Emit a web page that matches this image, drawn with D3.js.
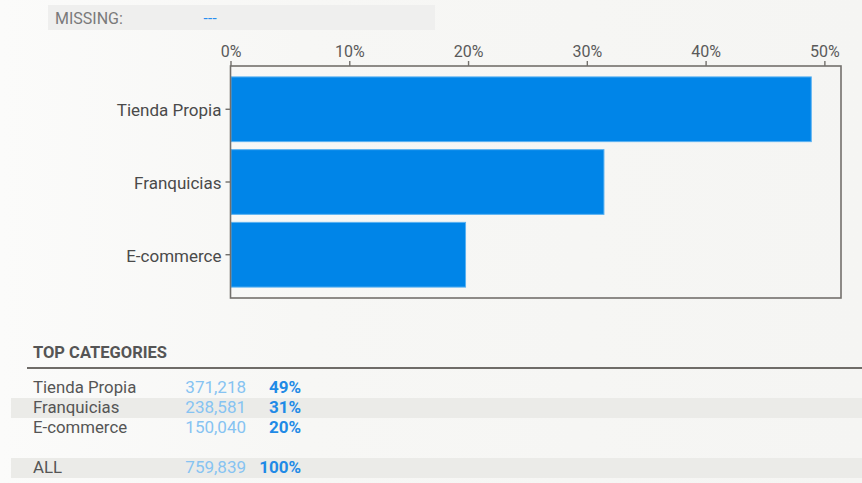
<!DOCTYPE html>
<html>
<head>
<meta charset="utf-8">
<script src="https://cdn.jsdelivr.net/npm/d3@7"></script>
<style>
  html, body { margin: 0; padding: 0; background: #f6f6f4; }
  svg { display: block; }
</style>
</head>
<body>
<svg id="chart" width="862" height="483"></svg>
<script>
// Channel breakdown
const categories = ["Tienda Propia", "Franquicias", "E-commerce"];
const counts = [371218, 238581, 150040];
const total = 759839;
const xTicks = [0, 0.1, 0.2, 0.3, 0.4, 0.5];
const missingLabel = "MISSING:";
const missingValue = "---";
const tableTitle = "TOP CATEGORIES";
const allLabel = "ALL";

const shares = counts.map(c => c / total);

const svg = d3.select("#chart");
const W = 862, H = 483;

// background with a soft left-to-right tint
const defs = svg.append("defs");
const grad = defs.append("linearGradient").attr("id", "bg").attr("x1", 0).attr("x2", 1).attr("y1", 0).attr("y2", 0);
grad.append("stop").attr("offset", 0).attr("stop-color", "#fbfbfa");
grad.append("stop").attr("offset", 0.35).attr("stop-color", "#f7f7f5");
grad.append("stop").attr("offset", 1).attr("stop-color", "#f5f5f3");
svg.append("rect").attr("width", W).attr("height", H).attr("fill", "url(#bg)");

// missing-values strip
svg.append("rect").attr("x", 48).attr("y", 5).attr("width", 387).attr("height", 25).attr("fill", "#efefee");
svg.append("text").attr("x", 55).attr("y", 24).text(missingLabel)
  .attr("font-family", "Roboto, sans-serif").attr("font-size", 16).attr("fill", "#7a7a7a");
svg.append("text").attr("x", 203).attr("y", 23).text(missingValue)
  .attr("font-family", "'DejaVu Sans', sans-serif").attr("font-size", 14).attr("letter-spacing", -0.6)
  .attr("fill", "#2a8ef0");

// bar chart
const plot = { left: 230.5, right: 841, top: 66, bottom: 298 };
const x = d3.scaleLinear().domain([0, 0.514]).range([plot.left, plot.right]);
const y = d3.scaleBand().domain(categories).range([plot.top, plot.bottom])
  .paddingInner(0.11).paddingOuter(0.15);

const g = svg.append("g");

g.selectAll("rect.bar").data(categories).join("rect")
  .attr("class", "bar")
  .attr("x", x(0) + 0.5)
  .attr("y", d => y(d))
  .attr("width", (d, i) => x(shares[i]) - x(0))
  .attr("height", y.bandwidth())
  .attr("fill", "#0085e8")
  .attr("stroke", "#5ab2f2")
  .attr("stroke-width", 1);

// frame
g.append("rect")
  .attr("x", plot.left).attr("y", plot.top)
  .attr("width", plot.right - plot.left).attr("height", plot.bottom - plot.top)
  .attr("fill", "none").attr("stroke", "#73706c").attr("stroke-width", 1.6);

// top axis
const xAxis = d3.axisTop(x).tickValues(xTicks).tickFormat(d3.format(".0%")).tickSize(5).tickSizeOuter(0);
const ax = g.append("g").attr("transform", `translate(0,${plot.top})`).call(xAxis);
ax.select(".domain").remove();
ax.selectAll(".tick line").attr("stroke", "#73706c").attr("stroke-width", 1.4);
ax.selectAll(".tick text").attr("font-family", "Roboto, sans-serif").attr("font-size", 16)
  .attr("fill", "#5a5a5a").attr("dy", "-0.05em");

// left axis
const yAxis = d3.axisLeft(y).tickSize(5).tickSizeOuter(0);
const ay = g.append("g").attr("transform", `translate(${plot.left},0)`).call(yAxis);
ay.select(".domain").remove();
ay.selectAll(".tick line").attr("stroke", "#73706c").attr("stroke-width", 1.4);
ay.selectAll(".tick text").attr("font-family", "Roboto, sans-serif").attr("font-size", 17)
  .attr("fill", "#4a4a4a").attr("x", -9).attr("dy", "0.42em");

// top categories table
svg.append("text").attr("x", 33).attr("y", 358).text(tableTitle)
  .attr("font-family", "'Liberation Sans Narrow', 'Roboto', sans-serif").attr("font-weight", "bold")
  .attr("font-size", 16.5).attr("fill", "#555");
svg.append("line").attr("x1", 27).attr("x2", W).attr("y1", 368).attr("y2", 368)
  .attr("stroke", "#6f6c68").attr("stroke-width", 2);

const rowY = d3.scalePoint().domain(d3.range(categories.length)).range([393, 433]);
const fmt = d3.format(",");
const pct = d3.format(".0%");

const rows = categories.map((c, i) => ({ name: c, value: counts[i], share: shares[i], y: rowY(i), shade: i % 2 === 1 }));
rows.push({ name: allLabel, value: total, share: 1, y: 473, shade: true });

const tbl = svg.append("g");
tbl.selectAll("rect").data(rows.filter(r => r.shade)).join("rect")
  .attr("x", 11).attr("width", W - 11).attr("y", d => d.y - 15).attr("height", 20)
  .attr("fill", "#ebebe8");

const row = tbl.selectAll("g.row").data(rows).join("g").attr("class", "row");
row.append("text").attr("x", 33).attr("y", d => d.y).text(d => d.name)
  .attr("font-family", "Roboto, sans-serif").attr("font-size", 16.8).attr("fill", "#555");
row.append("text").attr("x", 246).attr("y", d => d.y).attr("text-anchor", "end").text(d => fmt(d.value))
  .attr("font-family", "Roboto, sans-serif").attr("font-size", 17).attr("fill", "#86c3f2");
row.append("text").attr("x", 301).attr("y", d => d.y).attr("text-anchor", "end").text(d => pct(d.share))
  .attr("font-family", "Roboto, sans-serif").attr("font-weight", "bold").attr("font-size", 17).attr("fill", "#1f8ae6");
</script>
</body>
</html>
